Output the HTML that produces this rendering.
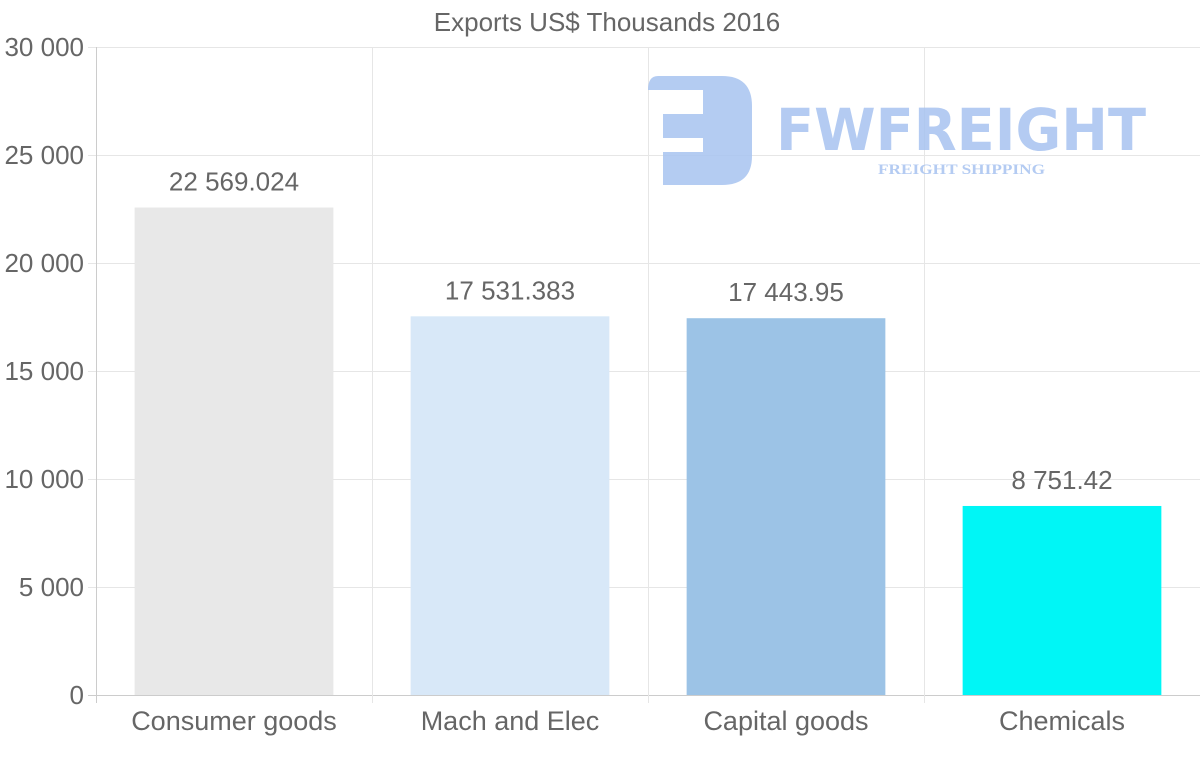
<!DOCTYPE html>
<html><head><meta charset="utf-8"><style>
html,body{margin:0;padding:0;background:#fff;}
svg{display:block;font-family:"Liberation Sans",Arial,sans-serif;}
</style></head><body>
<svg id="chart" width="1200" height="763">
<text x="607" y="31" text-anchor="middle" font-size="26" fill="#666">Exports US$ Thousands 2016</text>
<g id="grid"></g>
<g id="logo" opacity="0.85">
  <path d="M658,76 L722,76 Q752,76 752,106 L752,156 Q752,185 722,185 L663,185 L663,152 L703,152 L703,138 L663,138 L663,114 L703,114 L703,90 L648,90 Q648,76 658,76 Z" fill="#a7c3f0"/>
  <text x="776" y="150" font-size="58" font-weight="bold" fill="#a7c3f0" textLength="370" lengthAdjust="spacingAndGlyphs" font-family="'DejaVu Sans',sans-serif">FWFREIGHT</text>
  <text x="878" y="174" font-size="15" font-weight="bold" fill="#a7c3f0" textLength="167" lengthAdjust="spacingAndGlyphs" font-family="'Liberation Serif',serif">FREIGHT SHIPPING</text>
</g>
<g id="bars"></g>
<g id="axes"></g>
</svg>
<script>
const categories = ["Consumer goods","Mach and Elec","Capital goods","Chemicals"];
const values = [22569.024, 17531.383, 17443.95, 8751.42];
const valueLabels = ["22 569.024","17 531.383","17 443.95","8 751.42"];
const yTicks = [0,5000,10000,15000,20000,25000,30000];
const yTickLabels = ["0","5 000","10 000","15 000","20 000","25 000","30 000"];
const barColors = ["#e8e8e8","#d8e8f8","#9cc3e6","#00f6f6"];

const NS="http://www.w3.org/2000/svg";
const pLeft=96,pRight=1200,pTop=47,pBottom=695,yMax=30000;
const bw=(pRight-pLeft)/categories.length;
const yS=v=>pBottom-(v/yMax)*(pBottom-pTop);
const xc=i=>pLeft+bw*(i+0.5);
function mk(tag,attrs,parent){const e=document.createElementNS(NS,tag);for(const k in attrs)e.setAttribute(k,attrs[k]);parent.appendChild(e);return e;}
const grid=document.getElementById('grid'),bars=document.getElementById('bars'),axes=document.getElementById('axes');
yTicks.forEach((t,i)=>{
  const l=mk('line',{x1:88,x2:pRight,y1:yS(t)+0.5,y2:yS(t)+0.5,stroke:i==0?'#ccc':'#e6e6e6','stroke-width':1},grid);
  
  
  const tx=mk('text',{x:84,y:yS(t)+9,'text-anchor':'end','font-size':26,fill:'#666'},axes);
  tx.textContent=yTickLabels[i];
  
  
});
for(let i=0;i<=categories.length;i++){
  const x=pLeft+bw*i+0.5;
  const l=mk('line',{x1:x,x2:x,y1:pTop,y2:pBottom+8,stroke:i==0?'#ccc':'#e6e6e6','stroke-width':1},grid);
  
  
}
categories.forEach((c,i)=>{
  const w=bw*0.72;
  const r=mk('rect',{x:xc(i)-w/2,y:yS(values[i]),width:w,height:pBottom-yS(values[i]),fill:barColors[i]},bars);
  
  
  const vl=mk('text',{x:xc(i),y:yS(values[i])-17,'text-anchor':'middle','font-size':26,fill:'#666'},bars);
  vl.textContent=valueLabels[i];
  
  
  const xl=mk('text',{x:xc(i),y:730,'text-anchor':'middle','font-size':27,fill:'#666'},axes);
  xl.textContent=c;
  
  
});
</script>
</body></html>
